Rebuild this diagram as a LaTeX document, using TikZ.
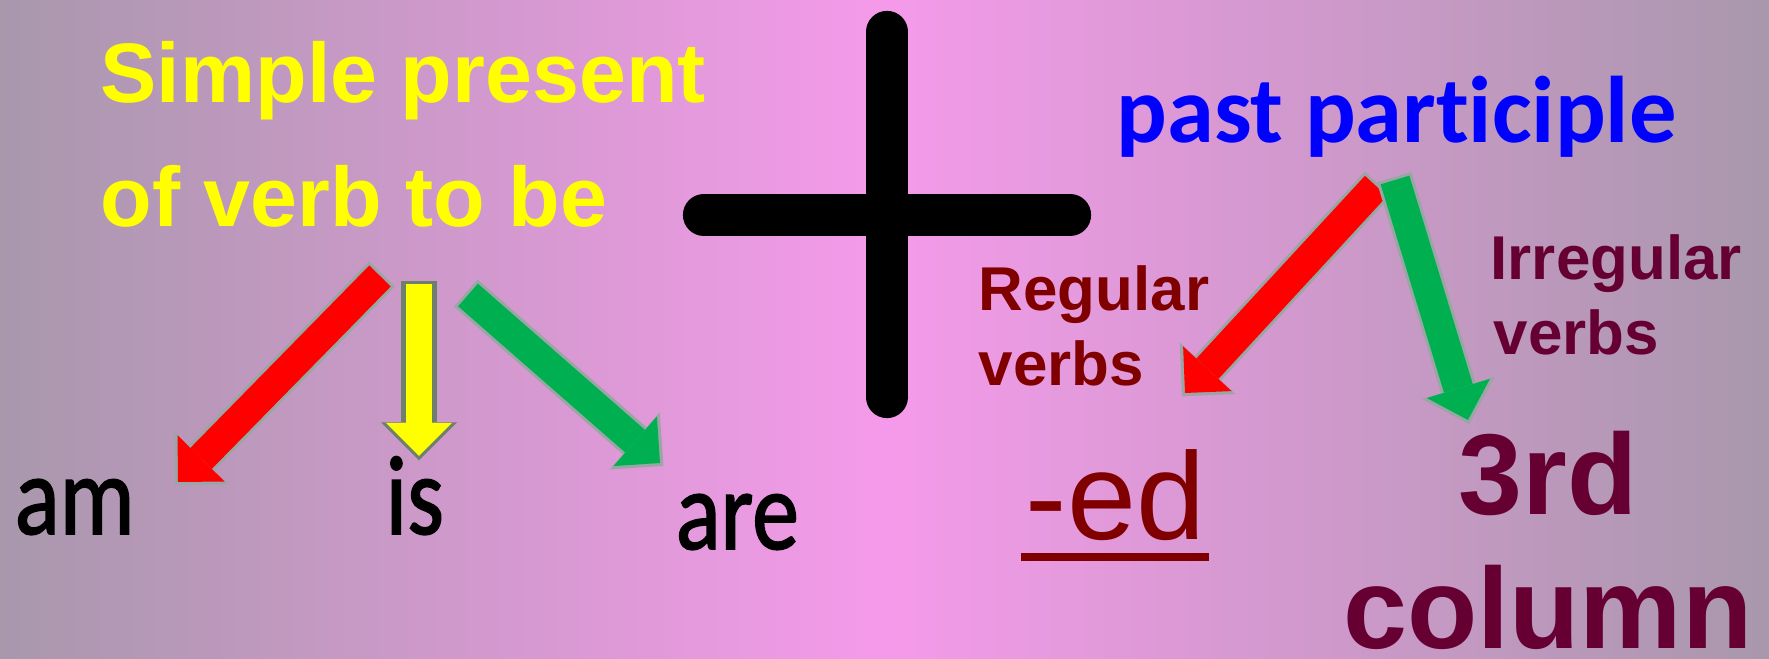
\documentclass[tikz,border=0pt]{standalone}
\usepackage{fontspec}
\setmainfont{Liberation Sans}
\newfontfamily\calfont{Carlito}[Ligatures=NoCommon]
\newfontfamily\wordfont{Carlito}[FakeBold=1.5]
\usepackage{graphicx}
\usetikzlibrary{arrows.meta}
\definecolor{bgside}{HTML}{A898AC}
\definecolor{bgmid}{HTML}{F59AEA}
\definecolor{headyellow}{HTML}{FFFF00}
\definecolor{pastblue}{HTML}{0000FF}
\definecolor{regred}{HTML}{800000}
\definecolor{irregpurple}{HTML}{660033}
\definecolor{arrowred}{HTML}{FF0000}
\definecolor{arrowyellow}{HTML}{FFFF00}
\definecolor{arrowgreen}{HTML}{00B050}
\definecolor{rimolive}{HTML}{6F806A}
\definecolor{rimgray}{HTML}{9AA6A6}
\tikzset{
	textnode/.style={
			inner sep=0pt,
			anchor=base west
		},
	headnode/.style={
			textnode,
			font=\bfseries\fontsize{24}{24}\selectfont,
			text=headyellow
		},
	wordnode/.style={
			textnode,
			font=\wordfont\fontsize{26.7}{26.7}\selectfont,
			text=black
		},
	kindnode/.style={
			textnode,
			font=\bfseries\fontsize{17.6}{17.6}\selectfont
		},
	columnnode/.style={
			inner sep=0pt,
			anchor=base,
			font=\bfseries\fontsize{32.7}{32.7}\selectfont,
			text=irregpurple
		},
	fatarrow/.style={
			line width=3mm,
			-{Triangle[width=6.6mm, length=3.3mm, line width=0pt]}
		},
	fatrim/.style={
			line width=3.6mm,
			shorten >=-0.45mm,
			shorten <=-0.3mm,
			-{Triangle[width=7.6mm, length=3.8mm, line width=0pt]}
		},
	plusbar/.style={
			line width=4.2mm,
			line cap=round,
			black
		}
}

\begin{document}
\begin{tikzpicture}[x=0.01cm, y=-0.01cm]
\useasboundingbox (0,0) rectangle (1769,659);
\shade[left color=bgside, right color=bgside, middle color=bgmid] (0,0) rectangle (1769,659);

% left half: to be
\node[headnode] (simple) at (100,103) {Simple present};
\node[headnode] (tobe) at (100,227) {of verb to be};

\node[wordnode] (am) at (14,534) {\scalebox{1}[1.2]{am}};
\node[wordnode] (is) at (385,534) {\scalebox{1}[1.2]{is}};
\node[wordnode] (are) at (675,549) {\scalebox{1}[1.2]{are}};

\coordinate (amtail) at (380,276);
\coordinate (amtip) at (178,482);
\coordinate (istail) at (419,284);
\coordinate (istip) at (419,456);
\coordinate (aretail) at (468,295);
\coordinate (aretip) at (660,463);

\draw[fatrim, rimgray] (amtail) -- (amtip);
\draw[fatarrow, arrowred] (amtail) -- (amtip);
\draw[fatrim, rimolive] (istail) -- (istip);
\draw[fatarrow, arrowyellow, line width=2.6mm] (istail) -- (istip);
\draw[fatrim, rimgray] (aretail) -- (aretip);
\draw[fatarrow, arrowgreen] (aretail) -- (aretip);

% plus sign
\coordinate (plus) at (887,215);
\draw[plusbar] ([yshift=1.83cm]plus) -- ([yshift=-1.82cm]plus);
\draw[plusbar] ([xshift=-1.83cm]plus) -- ([xshift=1.83cm]plus);

% right half: past participle
\node[textnode, font=\calfont\bfseries\fontsize{26.9}{26.9}\selectfont, text=pastblue] (past) at (1116,143) {past participle};

\node[kindnode, text=regred] (regular) at (978,311) {Regular};
\node[kindnode, text=regred] (regverbs) at (978,386) {verbs};
\node[kindnode, text=irregpurple] (irregular) at (1490,280) {Irregular};
\node[kindnode, text=irregpurple] (irregverbs) at (1493,355) {verbs};

\node[textnode, font=\fontsize{35.3}{35.3}\selectfont, text=regred] (ed) at (1025,540) {-ed};
\draw[regred, line width=0.8mm] ([xshift=-0.04cm, yshift=-0.17cm]ed.base west) -- ([xshift=0.03cm, yshift=-0.17cm]ed.base east);

\node[columnnode] (third) at (1548,515) {3rd};
\node[columnnode] (column) at (1548,649) {column};

\coordinate (regtail) at (1376,186);
\coordinate (regtip) at (1185,393);
\coordinate (irrtail) at (1395,180);
\coordinate (irrtip) at (1468,420);

\draw[fatrim, rimgray] (regtail) -- (regtip);
\draw[fatarrow, arrowred] (regtail) -- (regtip);
\draw[fatrim, rimgray] (irrtail) -- (irrtip);
\draw[fatarrow, arrowgreen] (irrtail) -- (irrtip);
\end{tikzpicture}
\end{document}
